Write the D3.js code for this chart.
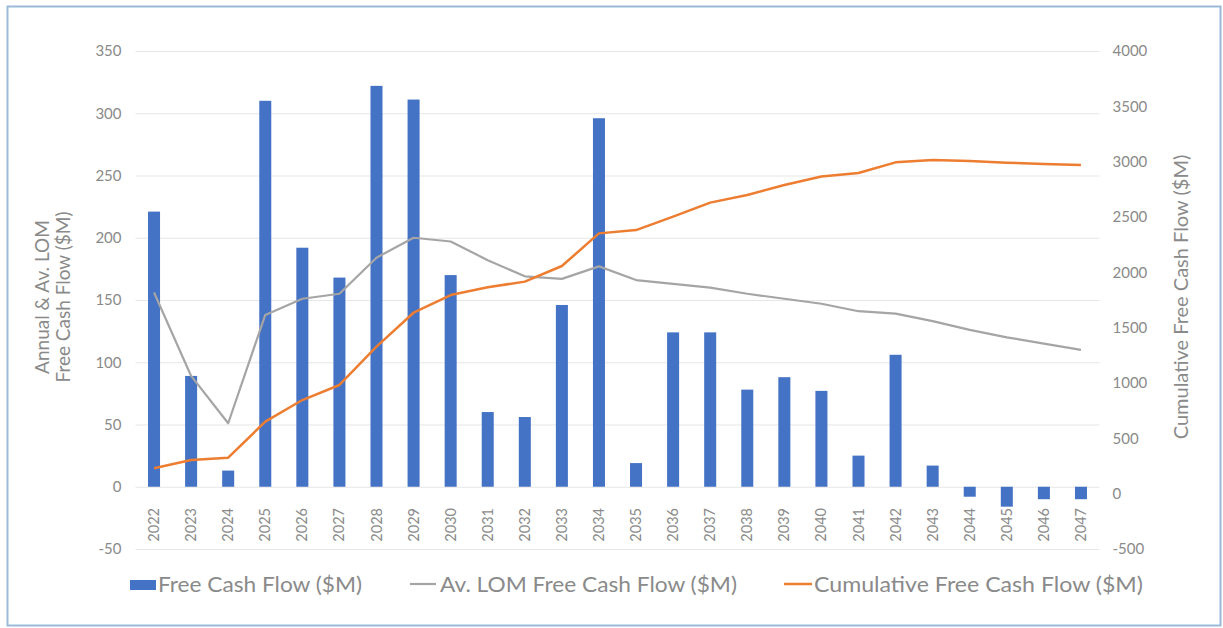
<!DOCTYPE html>
<html>
<head>
<meta charset="utf-8">
<script src="https://cdn.jsdelivr.net/npm/d3@7/dist/d3.min.js"></script>
<style>
  html, body { margin: 0; padding: 0; background: #ffffff; }
  svg { display: block; }
  text { font-family: Lato, "Noto Sans", sans-serif; }
</style>
</head>
<body>
<svg id="chart" width="1223" height="628"></svg>
<script>
const years = ["2022","2023","2024","2025","2026","2027","2028","2029","2030","2031","2032","2033","2034","2035","2036","2037","2038","2039","2040","2041","2042","2043","2044","2045","2046","2047"];
const freeCashFlow = [221, 89, 13, 310, 192, 168, 322, 311, 170, 60, 56, 146, 296, 19, 124, 124, 78, 88, 77, 25, 106, 17, -8, -16, -10, -10];
const avLomFreeCashFlow = [156, 89, 51, 138, 151, 155, 184, 200, 197, 182, 169, 167, 177, 166, 163, 160, 155, 151, 147, 141, 139, 133, 126, 120, 115, 110];
const cumulativeFreeCashFlow = [229, 304, 325, 651, 846, 982, 1328, 1635, 1795, 1865, 1916, 2057, 2352, 2382, 2503, 2630, 2699, 2789, 2866, 2898, 2994, 3015, 3006, 2991, 2979, 2970];
const leftTicks = [-50, 0, 50, 100, 150, 200, 250, 300, 350];
const rightTicks = [-500, 0, 500, 1000, 1500, 2000, 2500, 3000, 3500, 4000];
const seriesNames = ["Free Cash Flow ($M)", "Av. LOM Free Cash Flow ($M)", "Cumulative Free Cash Flow ($M)"];
const leftTitle = ["Annual & Av. LOM", "Free Cash Flow ($M)"];
const rightTitle = "Cumulative Free Cash Flow ($M)";

const svg = d3.select("#chart");
const textColor = "#8a8a8a";
const plainFormat = d => String(d);

// frame
svg.append("rect").attr("x", 7.5).attr("y", 6.5).attr("width", 1213).attr("height", 619)
  .attr("fill", "#ffffff").attr("stroke", "#9cbad8").attr("stroke-width", 2);

const plotLeft = 135.5, plotRight = 1099.5, plotTop = 51, plotBottom = 549;

const x = d3.scaleBand().domain(years).range([plotLeft, plotRight]).paddingInner(0.676).paddingOuter(0.338);
const yL = d3.scaleLinear().domain([-50, 350]).range([plotBottom, plotTop]);
const yR = d3.scaleLinear().domain([-500, 4000]).range([plotBottom, plotTop]);
const cx = d => x(d) + x.bandwidth() / 2;

// gridlines
const grid = d3.axisLeft(yL).tickValues(leftTicks).tickSize(-(plotRight - plotLeft)).tickFormat("");
svg.append("g").attr("transform", `translate(${plotLeft},0)`).call(grid)
  .call(g => g.select(".domain").remove())
  .call(g => g.selectAll("line").attr("stroke", "#e6e6e6").attr("stroke-width", 1.2));

// left axis labels
svg.append("g").attr("transform", `translate(${plotLeft},0)`)
  .call(d3.axisLeft(yL).tickValues(leftTicks).tickSize(0).tickPadding(14).tickFormat(plainFormat))
  .call(g => g.select(".domain").remove())
  .call(g => g.selectAll("text").attr("fill", textColor).style("font-size", "15px").style("font-family", "Lato, sans-serif"));

// right axis labels
svg.append("g").attr("transform", `translate(${plotRight},0)`)
  .call(d3.axisRight(yR).tickValues(rightTicks).tickSize(0).tickPadding(13).tickFormat(plainFormat))
  .call(g => g.select(".domain").remove())
  .call(g => g.selectAll("text").attr("fill", textColor).style("font-size", "15px").style("font-family", "Lato, sans-serif"));

// bars
svg.append("g").selectAll("rect").data(years).join("rect")
  .attr("x", d => x(d))
  .attr("width", x.bandwidth())
  .attr("y", (d, i) => yL(Math.max(0, freeCashFlow[i])))
  .attr("height", (d, i) => Math.abs(yL(freeCashFlow[i]) - yL(0)))
  .attr("fill", "#4472c4");

// x labels
svg.append("g").selectAll("text").data(years).join("text")
  .attr("transform", d => `translate(${cx(d) + 5},508) rotate(-90)`)
  .attr("text-anchor", "end")
  .attr("fill", textColor)
  .style("font-size", "14.5px")
  .text(d => d);

// lines
const lineL = d3.line().x((d, i) => cx(years[i])).y(d => yL(d));
const lineR = d3.line().x((d, i) => cx(years[i])).y(d => yR(d));
svg.append("path").datum(avLomFreeCashFlow).attr("d", lineL)
  .attr("fill", "none").attr("stroke", "#a5a5a5").attr("stroke-width", 2.2).attr("stroke-linejoin", "round");
svg.append("path").datum(cumulativeFreeCashFlow).attr("d", lineR)
  .attr("fill", "none").attr("stroke", "#ed7d31").attr("stroke-width", 2.5).attr("stroke-linejoin", "round");

// axis titles
const lt = svg.append("text").attr("transform", "translate(49,297) rotate(-90)")
  .attr("text-anchor", "middle").attr("fill", textColor).style("font-size", "19px");
lt.append("tspan").attr("x", 0).attr("dy", 0).text(leftTitle[0]);
lt.append("tspan").attr("x", 0).attr("dy", 21).text(leftTitle[1]);

svg.append("text").attr("transform", "translate(1188,297) rotate(-90)")
  .attr("text-anchor", "middle").attr("fill", textColor).style("font-size", "20px")
  .text(rightTitle);

// legend
const legend = svg.append("g");
legend.append("rect").attr("x", 130).attr("y", 580).attr("width", 26).attr("height", 10).attr("fill", "#4472c4");
legend.append("text").attr("x", 158).attr("y", 592).attr("fill", textColor).style("font-size", "21px")
  .attr("textLength", 204).attr("lengthAdjust", "spacingAndGlyphs").text(seriesNames[0]);
legend.append("line").attr("x1", 410).attr("x2", 436).attr("y1", 584).attr("y2", 584).attr("stroke", "#a5a5a5").attr("stroke-width", 2.2);
legend.append("text").attr("x", 440).attr("y", 592).attr("fill", textColor).style("font-size", "21px")
  .attr("textLength", 297).attr("lengthAdjust", "spacingAndGlyphs").text(seriesNames[1]);
legend.append("line").attr("x1", 784).attr("x2", 812).attr("y1", 584).attr("y2", 584).attr("stroke", "#ed7d31").attr("stroke-width", 2.5);
legend.append("text").attr("x", 814).attr("y", 592).attr("fill", textColor).style("font-size", "21px")
  .attr("textLength", 329).attr("lengthAdjust", "spacingAndGlyphs").text(seriesNames[2]);
</script>
</body>
</html>
